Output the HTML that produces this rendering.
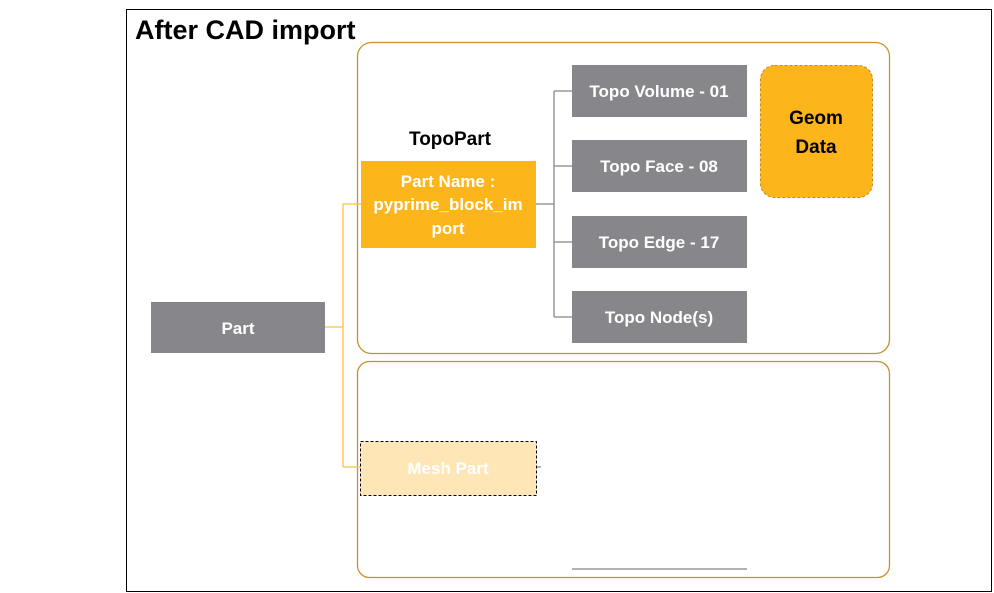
<!DOCTYPE html>
<html><head><meta charset="utf-8"><style>
body{margin:0;background:#fff;}
svg{display:block;font-family:"Liberation Sans",sans-serif;}
</style></head><body>
<svg width="994" height="593" viewBox="0 0 994 593" xmlns="http://www.w3.org/2000/svg">
<rect x="126.5" y="9.5" width="865" height="582" fill="#fff" stroke="#000" stroke-width="1"/>
<text x="135" y="39" font-size="27" font-weight="bold" fill="#000">After CAD import</text>
<rect x="357.5" y="42.5" width="532" height="311" rx="14" fill="#fff" stroke="#c8922a" stroke-width="1.3"/>
<rect x="357.5" y="361.5" width="532" height="216" rx="12" fill="#fff" stroke="#c8922a" stroke-width="1.3"/>
<!-- connectors -->
<g stroke="#fcc23e" stroke-width="1.3" fill="none">
<path d="M325 327 H343 M343 204 V467 M343 204 H361 M343 467 H361"/>
</g>
<g stroke="#999" stroke-width="1.5" fill="none">
<path d="M536 204 H554 M554 91 V317 M554 91 H572 M554 166 H572 M554 242 H572 M554 317 H572"/>
<path d="M537 467 H541"/>
<path d="M572 569 H747"/>
</g>
<rect x="151" y="302" width="174" height="51" fill="#87878b"/>
<text x="238" y="334" font-size="17" font-weight="bold" fill="#fff" text-anchor="middle">Part</text>
<text x="450" y="145" font-size="19" font-weight="bold" fill="#000" text-anchor="middle">TopoPart</text>
<rect x="361" y="161" width="175" height="87" fill="#fdb51c"/>
<g font-size="17" font-weight="bold" fill="#fff" text-anchor="middle">
<text x="448" y="187">Part Name :</text>
<text x="448" y="210">pyprime_block_im</text>
<text x="448" y="234">port</text>
</g>
<g fill="#87878b">
<rect x="572" y="65" width="175" height="52"/>
<rect x="572" y="140" width="175" height="52"/>
<rect x="572" y="216" width="175" height="52"/>
<rect x="572" y="291" width="175" height="52"/>
</g>
<g font-size="17" font-weight="bold" fill="#fff" text-anchor="middle">
<text x="659" y="97">Topo Volume - 01</text>
<text x="659" y="172">Topo Face - 08</text>
<text x="659" y="248">Topo Edge - 17</text>
<text x="659" y="323">Topo Node(s)</text>
</g>
<rect x="760.5" y="65.5" width="112" height="132" rx="14" fill="#fdb51c" stroke="#c88a10" stroke-dasharray="3,2"/>
<text x="816" y="124" font-size="19" font-weight="bold" fill="#000" text-anchor="middle">Geom</text>
<text x="816" y="153" font-size="19" font-weight="bold" fill="#000" text-anchor="middle">Data</text>
<rect x="360.5" y="441.5" width="176" height="54" fill="#fee6b7" stroke="#000" stroke-dasharray="3,2"/>
<text x="448" y="474" font-size="17" font-weight="bold" fill="#fff" text-anchor="middle">Mesh Part</text>
</svg>
</body></html>
